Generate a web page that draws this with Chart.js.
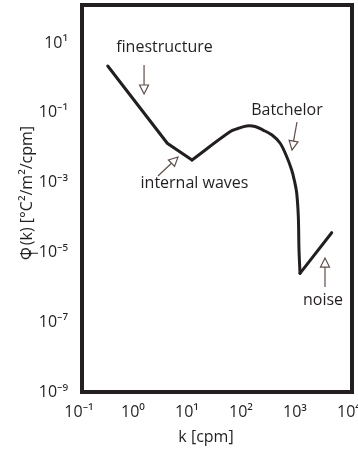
<!DOCTYPE html>
<html>
<head>
<meta charset="utf-8">
<script src="https://cdn.jsdelivr.net/npm/chart.js@4/dist/chart.umd.min.js"></script>
<style>
  html, body { margin: 0; padding: 0; background: #ffffff; }
  #wrap { width: 358px; height: 452px; }
</style>
</head>
<body>
<div id="wrap"><canvas id="c" width="358" height="452"></canvas></div>
<script>
// ---- data ----
const kValues   = [0.30, 3.8, 10.9, 55, 77.4, 112, 160, 225, 330, 464, 600, 764, 861, 946, 1014, 1044, 1089, 4207];
const phiValues = [2.2, 0.0134, 0.00445, 0.0287, 0.0355, 0.0419, 0.0405, 0.0321, 0.0231, 0.01365, 0.00618, 0.0023, 0.00111, 5.03e-4, 1.05e-4, 1.17e-5, 2.52e-6, 3.67e-5];
// indices where the spectrum has sharp corners (minimum after internal waves, bottom of the Batchelor roll-off)
const cornerIdx = [2, 16];

const xTickValues = [0.1, 1, 10, 100, 1000, 10000];
const xTickLabels = ['10⁻¹', '10⁰', '10¹', '10²', '10³', '10⁴'];
const yTickValues = [1e-9, 1e-7, 1e-5, 1e-3, 1e-1, 10];
const yTickLabels = ['10⁻⁹', '10⁻⁷', '10⁻⁵', '10⁻³', '10⁻¹', '10¹'];

const noteTexts = ['finestructure', 'internal waves', 'Batchelor', 'noise'];
const xTitle = 'k [cpm]';

// ---- annotation placement (data coordinates) ----
const notes = [
  { text: noteTexts[0], at: [3.37, 7.67],    from: [1.41, 2.34],   to: [1.41, 0.346] },
  { text: noteTexts[1], at: [12.1, 9.75e-4], from: [2.55, 1.55e-3], to: [6.0, 5.42e-3] },
  { text: noteTexts[2], at: [625, 0.12],     from: [957, 0.0545],  to: [774, 0.00859] },
  { text: noteTexts[3], at: [2904, 4.33e-7], from: [3162, 1.02e-6], to: [3162, 6.9e-6] }
];

const FONT = '"Open Sans", "Noto Sans", sans-serif';
const INK = '#231f20';
const ARROW = '#5e4f48';

const decorPlugin = {
  id: 'decor',
  afterDraw(chart) {
    const ctx = chart.ctx;
    const a = chart.chartArea;
    const xs = chart.scales.x, ys = chart.scales.y;
    ctx.save();
    // frame
    ctx.strokeStyle = INK;
    ctx.lineWidth = 4;
    ctx.strokeRect(a.left, a.top, a.right - a.left, a.bottom - a.top);

    // annotations
    ctx.font = '16px ' + FONT;
    ctx.textAlign = 'center';
    ctx.textBaseline = 'middle';
    notes.forEach(n => {
      ctx.fillStyle = INK;
      ctx.fillText(n.text, xs.getPixelForValue(n.at[0]), ys.getPixelForValue(n.at[1]));
      const x1 = xs.getPixelForValue(n.from[0]), y1 = ys.getPixelForValue(n.from[1]);
      const x2 = xs.getPixelForValue(n.to[0]),   y2 = ys.getPixelForValue(n.to[1]);
      const ang = Math.atan2(y2 - y1, x2 - x1);
      const hl = 9, hw = 4.5;
      const bx = x2 - hl * Math.cos(ang), by = y2 - hl * Math.sin(ang);
      ctx.strokeStyle = ARROW;
      ctx.lineWidth = 1.2;
      ctx.beginPath();
      ctx.moveTo(x1, y1);
      ctx.lineTo(bx, by);
      ctx.stroke();
      ctx.beginPath();
      ctx.moveTo(x2, y2);
      ctx.lineTo(bx + hw * Math.sin(ang), by - hw * Math.cos(ang));
      ctx.lineTo(bx - hw * Math.sin(ang), by + hw * Math.cos(ang));
      ctx.closePath();
      ctx.fillStyle = '#ffffff';
      ctx.fill();
      ctx.stroke();
    });

    // x title
    ctx.font = '16px ' + FONT;
    ctx.fillStyle = INK;
    ctx.textAlign = 'center';
    ctx.textBaseline = 'middle';
    ctx.fillText(xTitle, 206, 437);

    // y title with subscript T
    const big = '16px ' + FONT, small = '11px ' + FONT;
    const p1 = 'Φ', p2 = 'T', p3 = '(k) [°C²/m²/cpm]';
    ctx.font = big; const w1 = ctx.measureText(p1).width; const w3 = ctx.measureText(p3).width;
    ctx.font = small; const w2 = ctx.measureText(p2).width;
    const total = w1 + w2 * 0.35 + w3;
    ctx.translate(27, 193);
    ctx.rotate(-Math.PI / 2);
    ctx.textAlign = 'left';
    let x = -total / 2;
    ctx.font = big; ctx.fillText(p1, x, 0);
    ctx.font = small; ctx.fillText(p2, x + w1 * 0.3, 8);
    x += w1 + w2 * 0.35;
    ctx.font = big; ctx.fillText(p3, x, 0);
    ctx.restore();
  }
};

const pts = kValues.map((k, i) => ({ x: k, y: phiValues[i] }));
const lineStyle = { borderColor: INK, borderWidth: 3, pointRadius: 0, fill: false, borderCapStyle: 'round', borderJoinStyle: 'miter' };

new Chart(document.getElementById('c'), {
  type: 'line',
  data: {
    datasets: [
      Object.assign({ data: pts.slice(0, cornerIdx[0] + 1), tension: 0 }, lineStyle),
      Object.assign({ data: pts.slice(cornerIdx[0], cornerIdx[1] + 1), tension: 0.35 }, lineStyle),
      Object.assign({ data: pts.slice(cornerIdx[1]), tension: 0 }, lineStyle)
    ]
  },
  options: {
    responsive: false,
    devicePixelRatio: 1,
    animation: false,
    layout: { padding: { top: 5, right: 6, left: 0, bottom: 0 } },
    plugins: { legend: { display: false }, tooltip: { enabled: false } },
    scales: {
      x: {
        type: 'logarithmic',
        min: 0.1, max: 10000,
        grid: { display: false, drawTicks: false },
        border: { display: false },
        afterBuildTicks: s => { s.ticks = xTickValues.map(v => ({ value: v })); },
        afterFit: s => { s.height = 60; s.paddingLeft = 0; s.paddingRight = 0; },
        ticks: {
          autoSkip: false, maxRotation: 0, padding: 11, labelOffset: -3,
          color: INK, font: { family: FONT, size: 16 },
          callback: (v, i) => xTickLabels[i]
        }
      },
      y: {
        type: 'logarithmic',
        min: 1e-9, max: 123,
        grid: { display: false, drawTicks: false },
        border: { display: false },
        afterBuildTicks: s => { s.ticks = yTickValues.map(v => ({ value: v })); },
        afterFit: s => { s.width = 82; s.paddingTop = 0; s.paddingBottom = 0; },
        ticks: {
          autoSkip: false, padding: 14,
          color: INK, font: { family: FONT, size: 16 },
          callback: (v, i) => yTickLabels[i]
        }
      }
    }
  },
  plugins: [decorPlugin]
});
</script>
</body>
</html>
